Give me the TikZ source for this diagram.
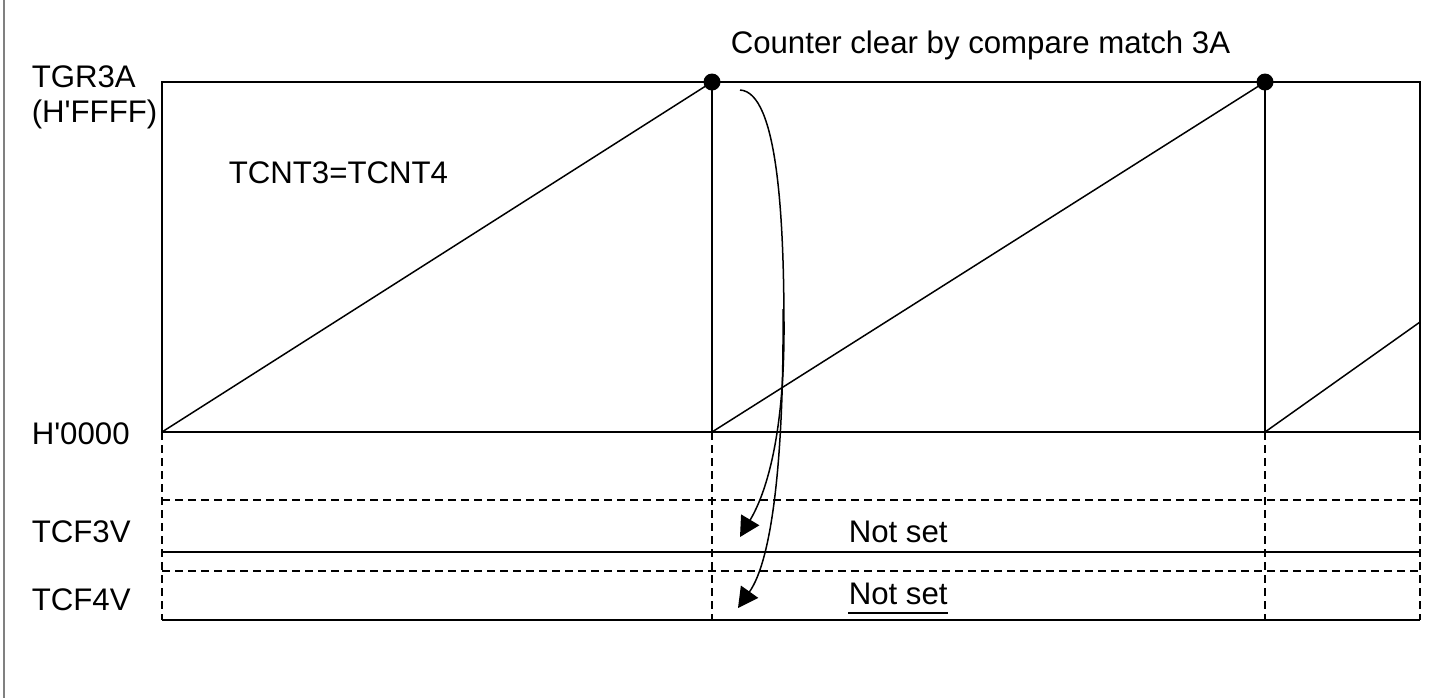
\documentclass[tikz,border=0pt]{standalone}
\usepackage{fontspec}
\setmainfont{Liberation Sans}
\usetikzlibrary{arrows.meta}
\definecolor{FrameGray}{HTML}{808080}
\tikzset{
  lbl/.style={anchor=base west,inner sep=0pt,font=\fontsize{15.6}{18}\selectfont},
  flagdash/.style={dash pattern=on 4pt off 2.5pt},
  clrarrow/.style={-{Triangle[length=10pt,width=10.5pt]}}
}

\begin{document}
\begin{tikzpicture}[x=0.5pt,y=-0.5pt,line width=0.75pt]
  \useasboundingbox (0,0) rectangle (1444,698);
  \draw[FrameGray,line width=1pt] (4,0) -- (4,698);
  % counter waveform
  \draw (162,82) rectangle (1420,432);
  \foreach \t in {712,1265}{\draw (\t,82) -- (\t,432); \fill (\t,82) circle[radius=4.25pt];}
  \draw (162,432) -- (712,82) (712,432) -- (1265,82) (1265,432) -- (1420,322);
  % flag rows
  \foreach \t in {162,712,1265,1420}{\draw[flagdash] (\t,432) -- (\t,620);}
  \draw[flagdash] (162,500) -- (1420,500) (162,571) -- (1420,571);
  \draw (162,552) -- (1420,552) (162,620) -- (1420,620);
  \node[lbl] (tgr) at (31,87) {TGR3A};
  \node[lbl] (maxv) at (31,122) {(H\textquotesingle FFFF)};
  \node[lbl] (minv) at (31,444) {H\textquotesingle 0000};
  \node[lbl] (flag3) at (31,542) {TCF3V};
  \node[lbl] (flag4) at (31,610) {TCF4V};
  \node[lbl] (cnt) at (228,183) {TCNT3=TCNT4};
  \node[lbl] (clr) at (730,53) {Counter clear by compare match 3A};
  \node[lbl] (ns3) at (848,542) {Not set};
  \node[lbl] (ns4) at (848,604) {Not set};
  \draw ([yshift=-4.5pt]ns4.base west) -- ([yshift=-4.5pt]ns4.base east);
  % clear arrows
  \coordinate (src3) at (740,90); \coordinate (dst3) at (740,537);
  \coordinate (src4) at (783,309); \coordinate (dst4) at (738,608);
  \draw[clrarrow] (src3) .. controls +(38,2) and +(0,-110) .. (784,330) .. controls +(0,100) and +(28,-47) .. (dst3);
  \draw[clrarrow] (src4) .. controls +(1,150) and +(34,-48) .. (dst4);
\end{tikzpicture}
\end{document}
